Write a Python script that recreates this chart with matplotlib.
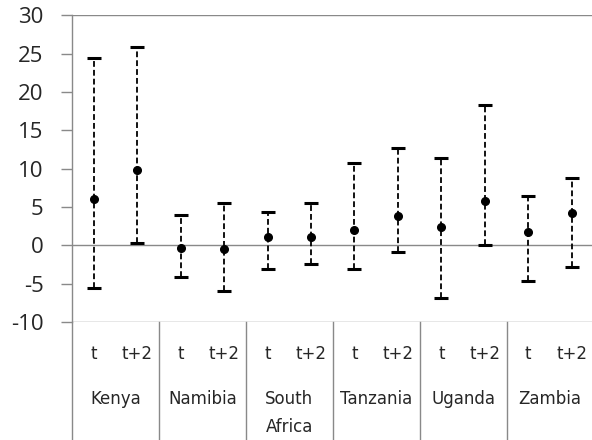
import matplotlib
matplotlib.use("Agg")
import matplotlib.pyplot as plt
import matplotlib.transforms as mtransforms
import numpy as np

countries = ["Kenya", "Namibia", "South\nAfrica", "Tanzania", "Uganda", "Zambia"]
periods = ["t", "t+2"]
centre = [6.05, 9.9, -0.3, -0.5, 1.05, 1.1, 1.95, 3.8, 2.4, 5.8, 1.75, 4.2]
high = [24.5, 25.85, 3.9, 5.5, 4.4, 5.5, 10.7, 12.75, 11.35, 18.35, 6.4, 8.85]
low = [-5.55, 0.3, -4.1, -6.0, -3.05, -2.4, -3.05, -0.8, -6.9, 0.1, -4.7, -2.8]
yticks = [-10, -5, 0, 5, 10, 15, 20, 25, 30]

GRAY = "#898989"
TXT = "#262626"

fig = plt.figure(figsize=(5.92, 4.40), dpi=100)
ax = fig.add_axes([72/592, 1-322/440, (593.4-72)/592, (322-15.5)/440])

n = len(centre)
x = np.arange(n)
c = np.array(centre)
yerr = [c - np.array(low), np.array(high) - c]
eb = ax.errorbar(x, c, yerr=yerr, fmt='o', color='black', markersize=5.5,
                 ecolor='black', elinewidth=1.3, capsize=4.8, capthick=2.2, zorder=3)
for coll in eb[2]:
    coll.set_linestyle((0, (3.2, 1.7)))

ax.set_xlim(-0.5, n - 0.5)
ax.set_ylim(-10, 30)
ax.set_yticks(yticks)
ax.set_yticklabels([str(v) for v in yticks])
ax.set_xticks([])
for s in ["top", "right", "bottom"]:
    ax.spines[s].set_visible(False)
ax.spines["left"].set_color(GRAY)
ax.spines["left"].set_linewidth(1.0)
ax.tick_params(axis='y', direction='out', length=8, width=1.0, color=GRAY,
               pad=12.5, labelsize=16, labelcolor=TXT)
for lab in ax.get_yticklabels():
    lab.set_fontfamily("Open Sans")

for yv in (30, 0, -10):
    ax.axhline(yv, color=GRAY, lw=1.0, zorder=1)

trans = mtransforms.blended_transform_factory(ax.transData, fig.transFigure)
for g in range(len(countries) + 1):
    xb = g * 2 - 0.5
    ax.plot([xb, xb], [1 - 322/440, 0], color=GRAY, lw=1.0, transform=trans, clip_on=False)

for i in range(n):
    ax.text(i, 1 - 354/440, periods[i % 2], transform=trans, ha='center', va='center',
            fontsize=12, color=TXT, family="DejaVu Sans")
for g, name in enumerate(countries):
    for k, line in enumerate(name.split("\n")):
        ax.text(g * 2 + 0.5, 1 - (399 + 28 * k)/440, line, transform=trans,
                ha='center', va='center', fontsize=12, color=TXT, family="DejaVu Sans")

fig.savefig("out.png", dpi=100)
